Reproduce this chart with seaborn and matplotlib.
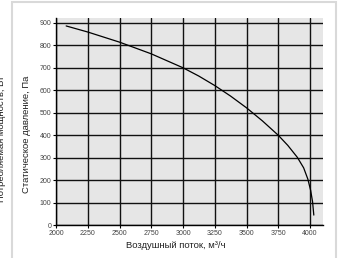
import numpy as np
import pandas as pd
import seaborn as sns
import matplotlib.pyplot as plt
from matplotlib.patches import Rectangle

# fan curve
airflow = [2080, 2250, 2500, 2750, 3000, 3125, 3250, 3375, 3500, 3625,
           3750, 3825, 3900, 3950, 3983, 4005, 4020, 4030]
pressure = [886, 859, 814, 762, 700, 663, 621, 574, 522, 464,
            400, 355, 302, 255, 205, 155, 105, 45]
x_ticks = [2000, 2250, 2500, 2750, 3000, 3250, 3500, 3750, 4000]
y_ticks = [0, 100, 200, 300, 400, 500, 600, 700, 800, 900]

df = pd.DataFrame({'airflow': airflow, 'pressure': pressure})

sns.set_style('white', {'axes.facecolor': '#e6e6e6'})
plt.rcParams['font.family'] = ['Liberation Sans', 'DejaVu Sans']

fig = plt.figure(figsize=(3.41, 2.58), dpi=100)
ax = fig.add_axes([56 / 341, 1 - 225.2 / 258, (322.7 - 56) / 341, (225.2 - 18.3) / 258])

sns.lineplot(data=df, x='airflow', y='pressure', ax=ax, color='black',
             linewidth=0.9, estimator=None, sort=False)

ax.set_xlim(2000, 4100)
ax.set_ylim(0, 920)
ax.set_xticks(x_ticks)
ax.set_yticks(y_ticks)
ax.grid(True, color='#111111', linewidth=1.0)
ax.set_axisbelow(True)
ax.tick_params(labelsize=5, colors='#444444', length=2.5, width=0.8, pad=0.8,
               left=True, bottom=True)
ax.tick_params(axis='both', color='black')
for side in ['top', 'right']:
    ax.spines[side].set_visible(False)
for side in ['left', 'bottom']:
    ax.spines[side].set_color('black')
    ax.spines[side].set_linewidth(1.0)

ax.set_xlabel('')
ax.set_ylabel('')
fig.text(176 / 341, 1 - 245 / 258, 'Воздушный поток, м³/ч', ha='center', va='center',
         fontsize=6.8, color='#222222')
fig.text(27 / 341, 1 - 76 / 258, 'Статическое давление, Па', ha='center', va='top',
         rotation=90, fontsize=6.8, color='#222222')
# neighbouring chart's label, cut off at the left edge
fig.text(2 / 341, 1 - 76 / 258, 'Потребляемая мощность, Вт', ha='center', va='top',
         rotation=90, fontsize=6.8, color='#222222')

# light frame around the panel
fig.patches.append(Rectangle((11.5 / 341, -0.05), (336 - 11.5) / 341, 1.05 - 2.5 / 258,
                             transform=fig.transFigure, fill=False,
                             edgecolor='#d9d9d9', linewidth=1.5))

plt.savefig('out.png', dpi=100)
